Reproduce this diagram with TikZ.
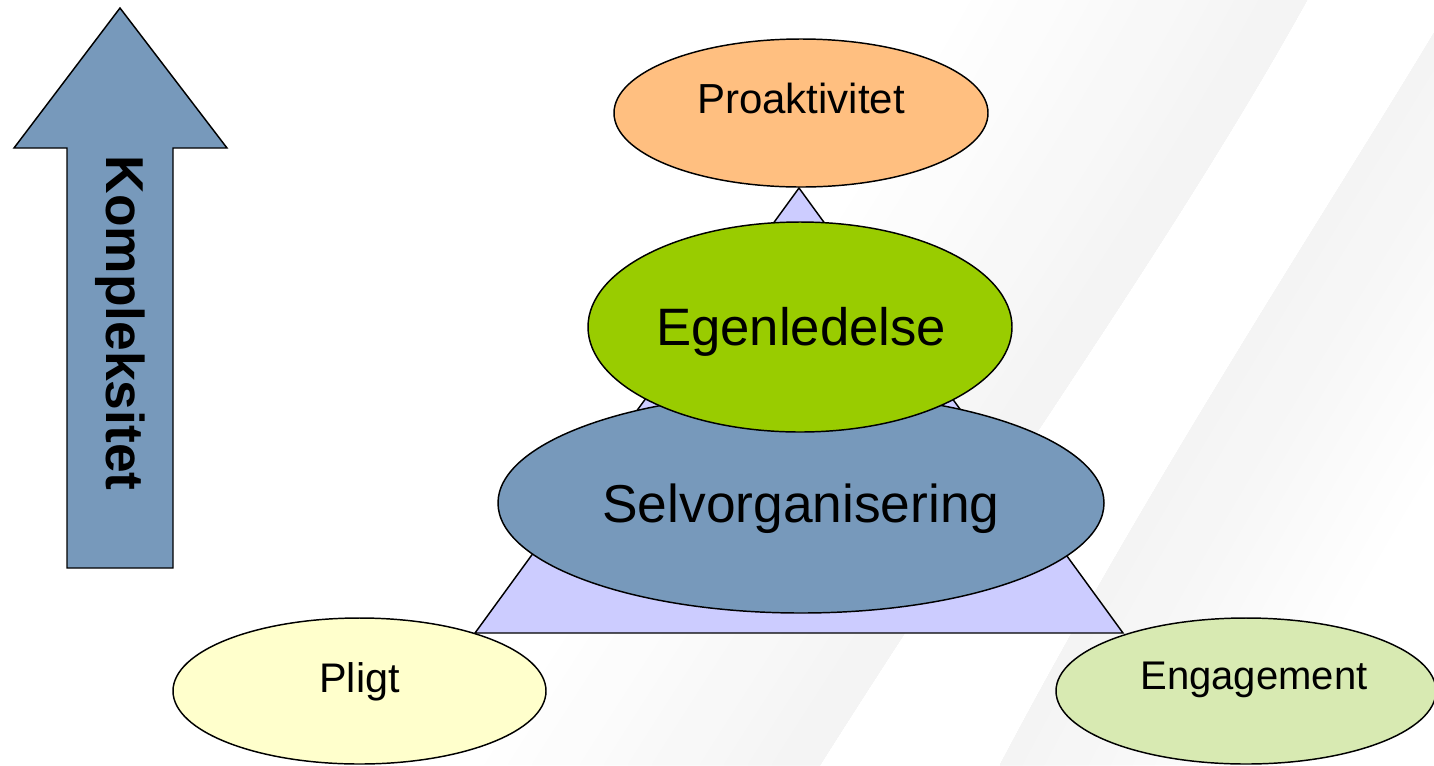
\documentclass[tikz,border=0pt]{standalone}
\usepackage{fontspec}
\setmainfont{Liberation Sans}
\usetikzlibrary{shapes.geometric}
\definecolor{cOrange}{HTML}{FFBF80}
\definecolor{cGreen}{HTML}{99CC00}
\definecolor{cBlue}{HTML}{7799BB}
\definecolor{cTri}{HTML}{CCCCFF}
\definecolor{cYellow}{HTML}{FFFFCC}
\definecolor{cLGreen}{HTML}{D8EAB2}
\tikzset{
  oval/.style={ellipse, draw=black, line width=1.1pt, inner sep=0pt},
  lbl/.style={inner sep=0pt, anchor=base, text=black},
}
\begin{document}
\begin{tikzpicture}[x=0.75pt,y=-0.75pt]
\useasboundingbox (0,0) rectangle (1434,765);
% faint background swooshes (soft gradients built from nested bands)
\begin{scope}
\clip (0,0) rectangle (1434,765);
\foreach \k in {14,...,1}{
  \pgfmathsetmacro{\p}{4.5*(1-(\k-1)/14)}
  \pgfmathsetmacro{\s}{\k*24}
  \fill[black!\p] (1307,0) .. controls (1180,230) and (1000,480) .. (820,765)
     -- ++(-\s,0) .. controls (1000-\s,480) and (1180-\s,230) .. (1307-\s,0) -- cycle;
}
\foreach \k in {12,...,1}{
  \pgfmathsetmacro{\p}{4.5*(1-(\k-1)/12)}
  \pgfmathsetmacro{\s}{\k*22}
  \fill[black!\p] (1434,33) .. controls (1340,190) and (1150,480) .. (1000,765)
     -- ++(\s,0) .. controls (1150+\s,480) and (1340+\s,190) .. (1434+\s,33) -- cycle;
}
\end{scope}
% triangle
\coordinate (tA) at (799,188);
\coordinate (tL) at (475,633);
\coordinate (tR) at (1123,633);
\draw[fill=cTri, line width=1.1pt, line join=miter] (tA) -- (tR) -- (tL) -- cycle;
% arrow
\coordinate (a1) at (120,8);
\coordinate (a2) at (227,148);
\coordinate (a3) at (173,148);
\coordinate (a4) at (173,568);
\coordinate (a5) at (67,568);
\coordinate (a6) at (67,148);
\coordinate (a7) at (14,148);
\draw[fill=cBlue, line width=1.1pt, line join=miter] (a1) -- (a2) -- (a3) -- (a4) -- (a5) -- (a6) -- (a7) -- cycle;
\node[inner sep=0pt, rotate=-90, font=\fontsize{40}{48}\selectfont\bfseries] (komp) at (120,323) {Kompleksitet};
% ellipses
\node[oval, fill=cOrange, minimum width=280.5pt, minimum height=111pt] (pro) at (801,113) {};
\node[lbl, font=\fontsize{31.5}{38}\selectfont] (protxt) at (801,113) {Proaktivitet};
\node[oval, fill=cBlue, minimum width=454.5pt, minimum height=165pt] (selv) at (801,503) {};
\node[lbl, font=\fontsize{40}{48}\selectfont] (selvtxt) at (801,522) {Selvorganisering};
\node[oval, fill=cGreen, minimum width=318pt, minimum height=157.5pt] (ege) at (800,327) {};
\node[lbl, font=\fontsize{39.5}{48}\selectfont] (egetxt) at (801,345) {Egenledelse};
\node[oval, fill=cYellow, minimum width=279.75pt, minimum height=109.5pt] (pli) at (359.5,691) {};
\node[lbl, font=\fontsize{31}{38}\selectfont] (plitxt) at (359.5,692) {Pligt};
\node[oval, fill=cLGreen, minimum width=285pt, minimum height=109.5pt] (eng) at (1246,691) {};
\node[lbl, font=\fontsize{30}{36}\selectfont] (engtxt) at (1254,689) {Engagement};
\end{tikzpicture}
\end{document}
